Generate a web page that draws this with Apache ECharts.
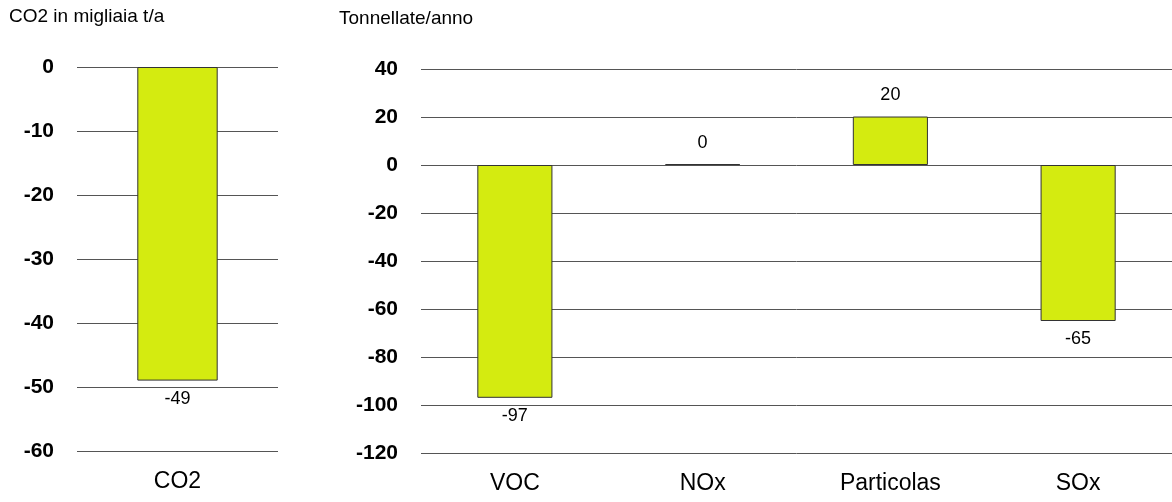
<!DOCTYPE html>
<html>
<head>
<meta charset="utf-8">
<script src="https://cdn.jsdelivr.net/npm/echarts@6/dist/echarts.min.js"></script>
<style>
  html, body { margin: 0; padding: 0; background: #fff; }
  #chart { width: 1172px; height: 502px; }
</style>
</head>
<body>
<div id="chart"></div>
<script>
// left panel: CO2 (thousand t/year)
const co2Categories = ['CO2']
const co2Values = [-49]
// right panel: other pollutants (t/year)
const pollCategories = ['VOC', 'NOx', 'Particolas', 'SOx']
const pollValues = [-97, 0.4, 20.2, -65]

const FONT = '"Liberation Sans", Arial, sans-serif'
const BAR_COLOR = '#d4eb10'

const chart = echarts.init(document.getElementById('chart'))

// negative bars get the label underneath, positive ones on top
function barData(values) {
    return values.map(v => ({
        value: v,
        label: v < 0 ? { position: 'bottom', distance: 9 } : { position: 'top', distance: 12 }
    }))
}

function valueAxis(gridIndex, min, max, interval) {
    return {
        type: 'value',
        gridIndex: gridIndex,
        min: min,
        max: max,
        interval: interval,
        axisLine: { show: false },
        axisTick: { show: false },
        axisLabel: {
            color: '#000',
            fontFamily: FONT,
            fontSize: 21,
            fontWeight: 'bold',
            margin: 23
        },
        splitLine: { lineStyle: { color: '#555', width: 1 } }
    }
}

function catAxis(gridIndex, data) {
    return {
        type: 'category',
        gridIndex: gridIndex,
        data: data,
        position: 'bottom',
        axisLine: { show: false },
        axisTick: { show: false },
        axisLabel: {
            color: '#000',
            fontFamily: FONT,
            fontSize: 23,
            margin: 19
        }
    }
}

const labelStyle = {
    show: true,
    color: '#000',
    fontFamily: FONT,
    fontSize: 18,
    formatter: p => Math.round(p.value)
}

const titleText = { fontFamily: FONT, fontSize: 19, fontWeight: 'normal', color: '#000' }

chart.setOption({
    animation: false,
    title: [
        { text: 'CO2 in migliaia t/a', left: 4, top: 2, textStyle: titleText },
        { text: 'Tonnellate/anno', left: 334, top: 4, textStyle: titleText }
    ],
    grid: [
        { left: 77, width: 201, top: 67, height: 384 },
        { left: 421, right: 0, top: 69, height: 384 }
    ],
    xAxis: [catAxis(0, co2Categories), catAxis(1, pollCategories)],
    yAxis: [valueAxis(0, -60, 0, 10), valueAxis(1, -120, 40, 20)],
    series: [
        {
            name: 'CO2',
            type: 'bar',
            xAxisIndex: 0,
            yAxisIndex: 0,
            data: barData(co2Values),
            barWidth: '40%',
            itemStyle: { color: BAR_COLOR, borderColor: '#333', borderWidth: 1 },
            label: labelStyle
        },
        {
            name: 'Inquinanti',
            type: 'bar',
            xAxisIndex: 1,
            yAxisIndex: 1,
            data: barData(pollValues),
            barWidth: '40%',
            itemStyle: { color: BAR_COLOR, borderColor: '#333', borderWidth: 1 },
            label: labelStyle
        }
    ]
})
</script>
</body>
</html>
